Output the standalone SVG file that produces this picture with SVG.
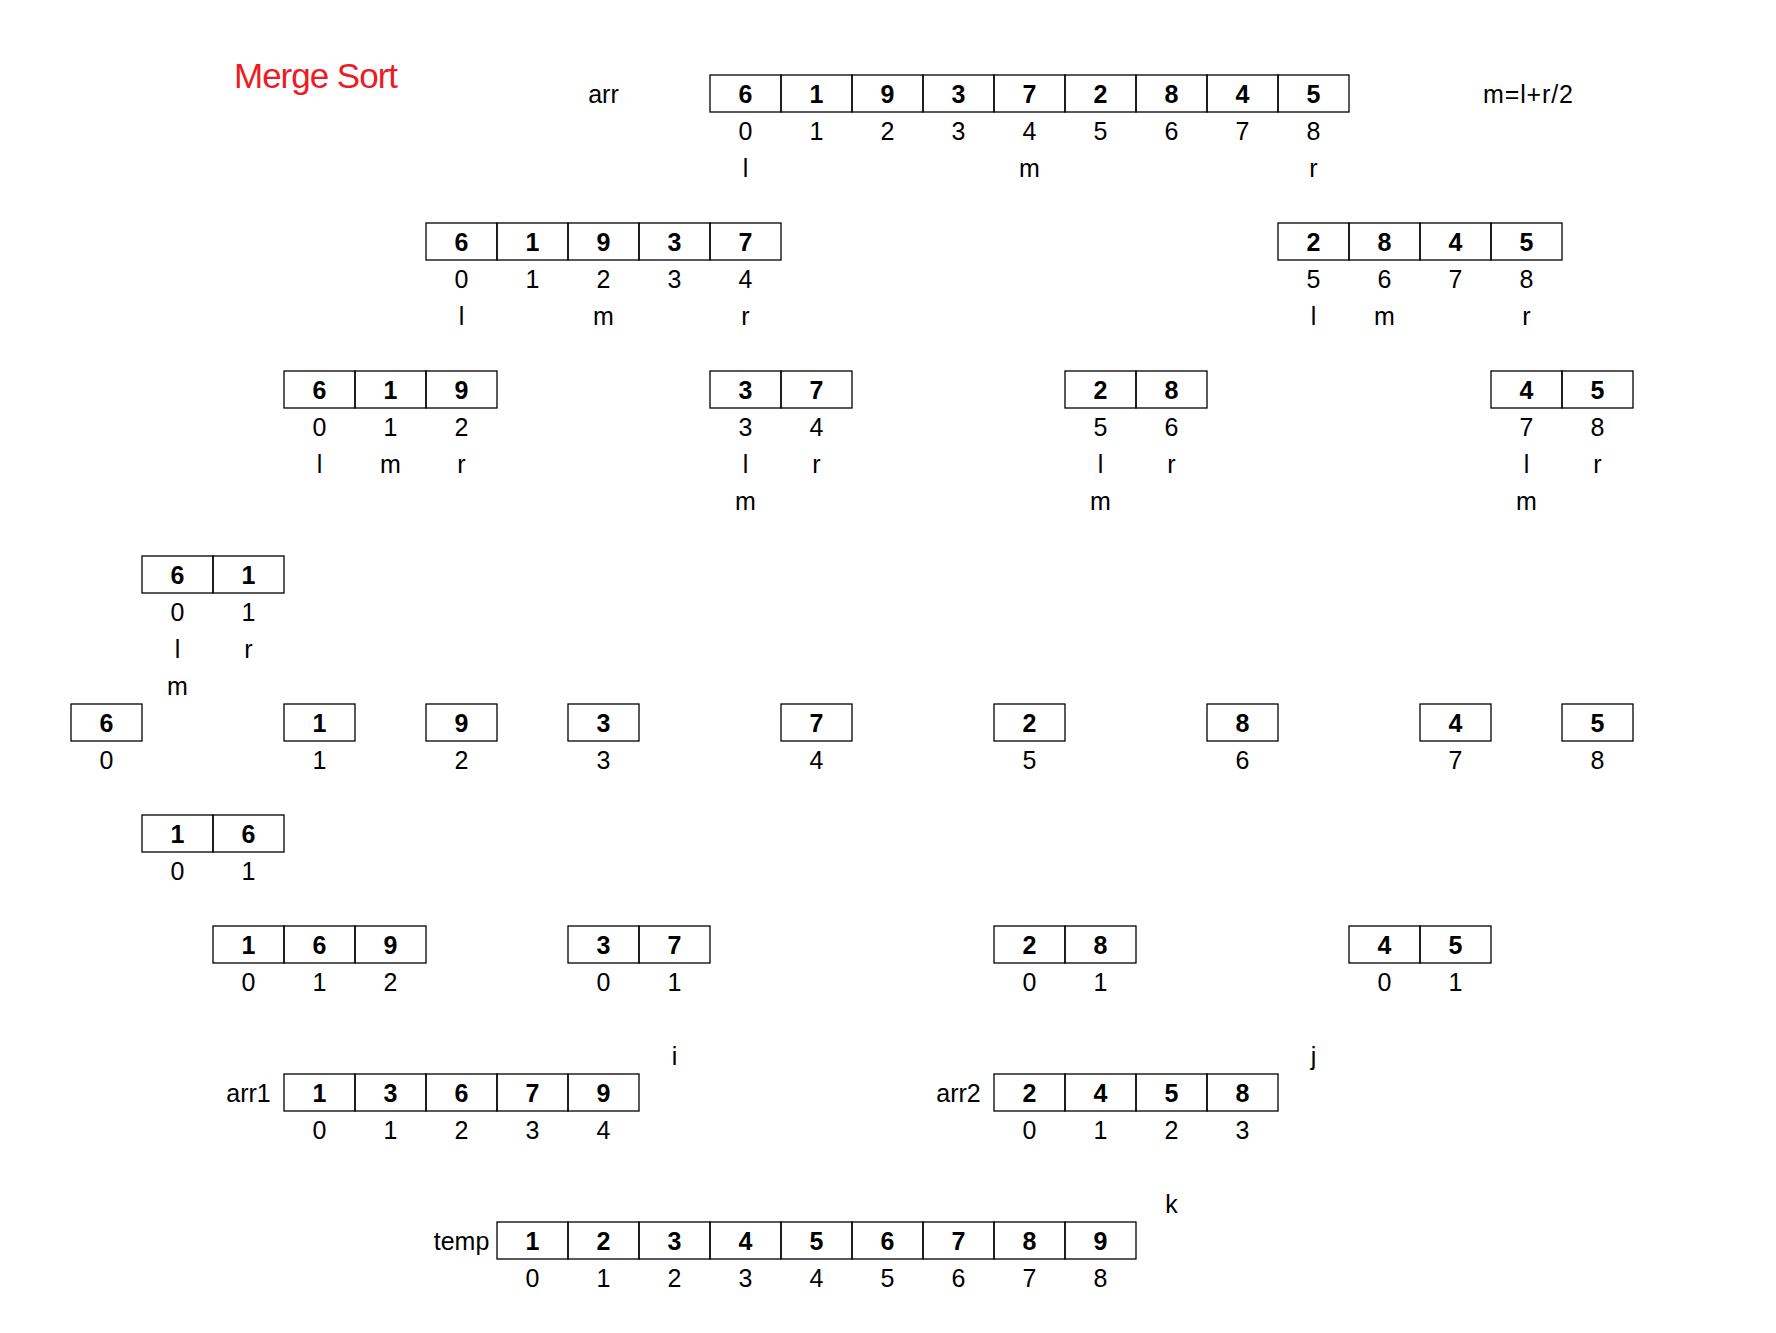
<svg xmlns="http://www.w3.org/2000/svg" xmlns:xlink="http://www.w3.org/1999/xlink" width="1776" height="1333" viewBox="0 0 1776 1333">
<style>
.c{fill:none;stroke:#000;stroke-width:1.3}
text{font-family:"Liberation Sans",Arial,sans-serif;font-size:25px;fill:#000;text-anchor:middle}
.v{font-weight:bold}
.t{font-size:35px;fill:#ed1c24;text-anchor:start}
</style>
<defs>
<rect id="cell" class="c" width="71" height="37"/>
</defs>
<rect width="1776" height="1333" fill="#fff"/>
<g id="title"><text class="t" x="234" y="88" textLength="164">Merge Sort</text></g>
<g id="formula"><text x="1528" y="103" textLength="90">m=l+r/2</text></g>

<g id="arr">
<text x="603.5" y="103">arr</text>
<use href="#cell" x="710" y="75"/><use href="#cell" x="781" y="75"/><use href="#cell" x="852" y="75"/><use href="#cell" x="923" y="75"/><use href="#cell" x="994" y="75"/><use href="#cell" x="1065" y="75"/><use href="#cell" x="1136" y="75"/><use href="#cell" x="1207" y="75"/><use href="#cell" x="1278" y="75"/>
<text class="v" x="745.5" y="103">6</text><text class="v" x="816.5" y="103">1</text><text class="v" x="887.5" y="103">9</text><text class="v" x="958.5" y="103">3</text><text class="v" x="1029.5" y="103">7</text><text class="v" x="1100.5" y="103">2</text><text class="v" x="1171.5" y="103">8</text><text class="v" x="1242.5" y="103">4</text><text class="v" x="1313.5" y="103">5</text>
<text x="745.5" y="140">0</text><text x="816.5" y="140">1</text><text x="887.5" y="140">2</text><text x="958.5" y="140">3</text><text x="1029.5" y="140">4</text><text x="1100.5" y="140">5</text><text x="1171.5" y="140">6</text><text x="1242.5" y="140">7</text><text x="1313.5" y="140">8</text>
<text x="745.5" y="177">l</text><text x="1029.5" y="177">m</text><text x="1313.5" y="177">r</text>
</g>

<g id="left-0-4">
<use href="#cell" x="426" y="223"/><use href="#cell" x="497" y="223"/><use href="#cell" x="568" y="223"/><use href="#cell" x="639" y="223"/><use href="#cell" x="710" y="223"/>
<text class="v" x="461.5" y="251">6</text><text class="v" x="532.5" y="251">1</text><text class="v" x="603.5" y="251">9</text><text class="v" x="674.5" y="251">3</text><text class="v" x="745.5" y="251">7</text>
<text x="461.5" y="288">0</text><text x="532.5" y="288">1</text><text x="603.5" y="288">2</text><text x="674.5" y="288">3</text><text x="745.5" y="288">4</text>
<text x="461.5" y="325">l</text><text x="603.5" y="325">m</text><text x="745.5" y="325">r</text>
</g>

<g id="right-5-8">
<use href="#cell" x="1278" y="223"/><use href="#cell" x="1349" y="223"/><use href="#cell" x="1420" y="223"/><use href="#cell" x="1491" y="223"/>
<text class="v" x="1313.5" y="251">2</text><text class="v" x="1384.5" y="251">8</text><text class="v" x="1455.5" y="251">4</text><text class="v" x="1526.5" y="251">5</text>
<text x="1313.5" y="288">5</text><text x="1384.5" y="288">6</text><text x="1455.5" y="288">7</text><text x="1526.5" y="288">8</text>
<text x="1313.5" y="325">l</text><text x="1384.5" y="325">m</text><text x="1526.5" y="325">r</text>
</g>

<g id="part-0-2">
<use href="#cell" x="284" y="371"/><use href="#cell" x="355" y="371"/><use href="#cell" x="426" y="371"/>
<text class="v" x="319.5" y="399">6</text><text class="v" x="390.5" y="399">1</text><text class="v" x="461.5" y="399">9</text>
<text x="319.5" y="436">0</text><text x="390.5" y="436">1</text><text x="461.5" y="436">2</text>
<text x="319.5" y="473">l</text><text x="390.5" y="473">m</text><text x="461.5" y="473">r</text>
</g>

<g id="part-3-4">
<use href="#cell" x="710" y="371"/><use href="#cell" x="781" y="371"/>
<text class="v" x="745.5" y="399">3</text><text class="v" x="816.5" y="399">7</text>
<text x="745.5" y="436">3</text><text x="816.5" y="436">4</text>
<text x="745.5" y="473">l</text><text x="816.5" y="473">r</text>
<text x="745.5" y="510">m</text>
</g>

<g id="part-5-6">
<use href="#cell" x="1065" y="371"/><use href="#cell" x="1136" y="371"/>
<text class="v" x="1100.5" y="399">2</text><text class="v" x="1171.5" y="399">8</text>
<text x="1100.5" y="436">5</text><text x="1171.5" y="436">6</text>
<text x="1100.5" y="473">l</text><text x="1171.5" y="473">r</text>
<text x="1100.5" y="510">m</text>
</g>

<g id="part-7-8">
<use href="#cell" x="1491" y="371"/><use href="#cell" x="1562" y="371"/>
<text class="v" x="1526.5" y="399">4</text><text class="v" x="1597.5" y="399">5</text>
<text x="1526.5" y="436">7</text><text x="1597.5" y="436">8</text>
<text x="1526.5" y="473">l</text><text x="1597.5" y="473">r</text>
<text x="1526.5" y="510">m</text>
</g>

<g id="part-0-1">
<use href="#cell" x="142" y="556"/><use href="#cell" x="213" y="556"/>
<text class="v" x="177.5" y="584">6</text><text class="v" x="248.5" y="584">1</text>
<text x="177.5" y="621">0</text><text x="248.5" y="621">1</text>
<text x="177.5" y="658">l</text><text x="248.5" y="658">r</text>
<text x="177.5" y="695">m</text>
</g>

<g id="singles">
<use href="#cell" x="71" y="704"/><text class="v" x="106.5" y="732">6</text><text x="106.5" y="769">0</text>
<use href="#cell" x="284" y="704"/><text class="v" x="319.5" y="732">1</text><text x="319.5" y="769">1</text>
<use href="#cell" x="426" y="704"/><text class="v" x="461.5" y="732">9</text><text x="461.5" y="769">2</text>
<use href="#cell" x="568" y="704"/><text class="v" x="603.5" y="732">3</text><text x="603.5" y="769">3</text>
<use href="#cell" x="781" y="704"/><text class="v" x="816.5" y="732">7</text><text x="816.5" y="769">4</text>
<use href="#cell" x="994" y="704"/><text class="v" x="1029.5" y="732">2</text><text x="1029.5" y="769">5</text>
<use href="#cell" x="1207" y="704"/><text class="v" x="1242.5" y="732">8</text><text x="1242.5" y="769">6</text>
<use href="#cell" x="1420" y="704"/><text class="v" x="1455.5" y="732">4</text><text x="1455.5" y="769">7</text>
<use href="#cell" x="1562" y="704"/><text class="v" x="1597.5" y="732">5</text><text x="1597.5" y="769">8</text>
</g>

<g id="merged-1-6">
<use href="#cell" x="142" y="815"/><use href="#cell" x="213" y="815"/>
<text class="v" x="177.5" y="843">1</text><text class="v" x="248.5" y="843">6</text>
<text x="177.5" y="880">0</text><text x="248.5" y="880">1</text>
</g>

<g id="merged-1-6-9">
<use href="#cell" x="213" y="926"/><use href="#cell" x="284" y="926"/><use href="#cell" x="355" y="926"/>
<text class="v" x="248.5" y="954">1</text><text class="v" x="319.5" y="954">6</text><text class="v" x="390.5" y="954">9</text>
<text x="248.5" y="991">0</text><text x="319.5" y="991">1</text><text x="390.5" y="991">2</text>
</g>

<g id="merged-3-7">
<use href="#cell" x="568" y="926"/><use href="#cell" x="639" y="926"/>
<text class="v" x="603.5" y="954">3</text><text class="v" x="674.5" y="954">7</text>
<text x="603.5" y="991">0</text><text x="674.5" y="991">1</text>
</g>

<g id="merged-2-8">
<use href="#cell" x="994" y="926"/><use href="#cell" x="1065" y="926"/>
<text class="v" x="1029.5" y="954">2</text><text class="v" x="1100.5" y="954">8</text>
<text x="1029.5" y="991">0</text><text x="1100.5" y="991">1</text>
</g>

<g id="merged-4-5">
<use href="#cell" x="1349" y="926"/><use href="#cell" x="1420" y="926"/>
<text class="v" x="1384.5" y="954">4</text><text class="v" x="1455.5" y="954">5</text>
<text x="1384.5" y="991">0</text><text x="1455.5" y="991">1</text>
</g>

<g id="arr1">
<text x="674.5" y="1065">i</text>
<text x="248.5" y="1102">arr1</text>
<use href="#cell" x="284" y="1074"/><use href="#cell" x="355" y="1074"/><use href="#cell" x="426" y="1074"/><use href="#cell" x="497" y="1074"/><use href="#cell" x="568" y="1074"/>
<text class="v" x="319.5" y="1102">1</text><text class="v" x="390.5" y="1102">3</text><text class="v" x="461.5" y="1102">6</text><text class="v" x="532.5" y="1102">7</text><text class="v" x="603.5" y="1102">9</text>
<text x="319.5" y="1139">0</text><text x="390.5" y="1139">1</text><text x="461.5" y="1139">2</text><text x="532.5" y="1139">3</text><text x="603.5" y="1139">4</text>
</g>

<g id="arr2">
<text x="1313.5" y="1065">j</text>
<text x="958.5" y="1102">arr2</text>
<use href="#cell" x="994" y="1074"/><use href="#cell" x="1065" y="1074"/><use href="#cell" x="1136" y="1074"/><use href="#cell" x="1207" y="1074"/>
<text class="v" x="1029.5" y="1102">2</text><text class="v" x="1100.5" y="1102">4</text><text class="v" x="1171.5" y="1102">5</text><text class="v" x="1242.5" y="1102">8</text>
<text x="1029.5" y="1139">0</text><text x="1100.5" y="1139">1</text><text x="1171.5" y="1139">2</text><text x="1242.5" y="1139">3</text>
</g>

<g id="temp">
<text x="1171.5" y="1213">k</text>
<text x="461.5" y="1250">temp</text>
<use href="#cell" x="497" y="1222"/><use href="#cell" x="568" y="1222"/><use href="#cell" x="639" y="1222"/><use href="#cell" x="710" y="1222"/><use href="#cell" x="781" y="1222"/><use href="#cell" x="852" y="1222"/><use href="#cell" x="923" y="1222"/><use href="#cell" x="994" y="1222"/><use href="#cell" x="1065" y="1222"/>
<text class="v" x="532.5" y="1250">1</text><text class="v" x="603.5" y="1250">2</text><text class="v" x="674.5" y="1250">3</text><text class="v" x="745.5" y="1250">4</text><text class="v" x="816.5" y="1250">5</text><text class="v" x="887.5" y="1250">6</text><text class="v" x="958.5" y="1250">7</text><text class="v" x="1029.5" y="1250">8</text><text class="v" x="1100.5" y="1250">9</text>
<text x="532.5" y="1287">0</text><text x="603.5" y="1287">1</text><text x="674.5" y="1287">2</text><text x="745.5" y="1287">3</text><text x="816.5" y="1287">4</text><text x="887.5" y="1287">5</text><text x="958.5" y="1287">6</text><text x="1029.5" y="1287">7</text><text x="1100.5" y="1287">8</text>
</g>
</svg>
